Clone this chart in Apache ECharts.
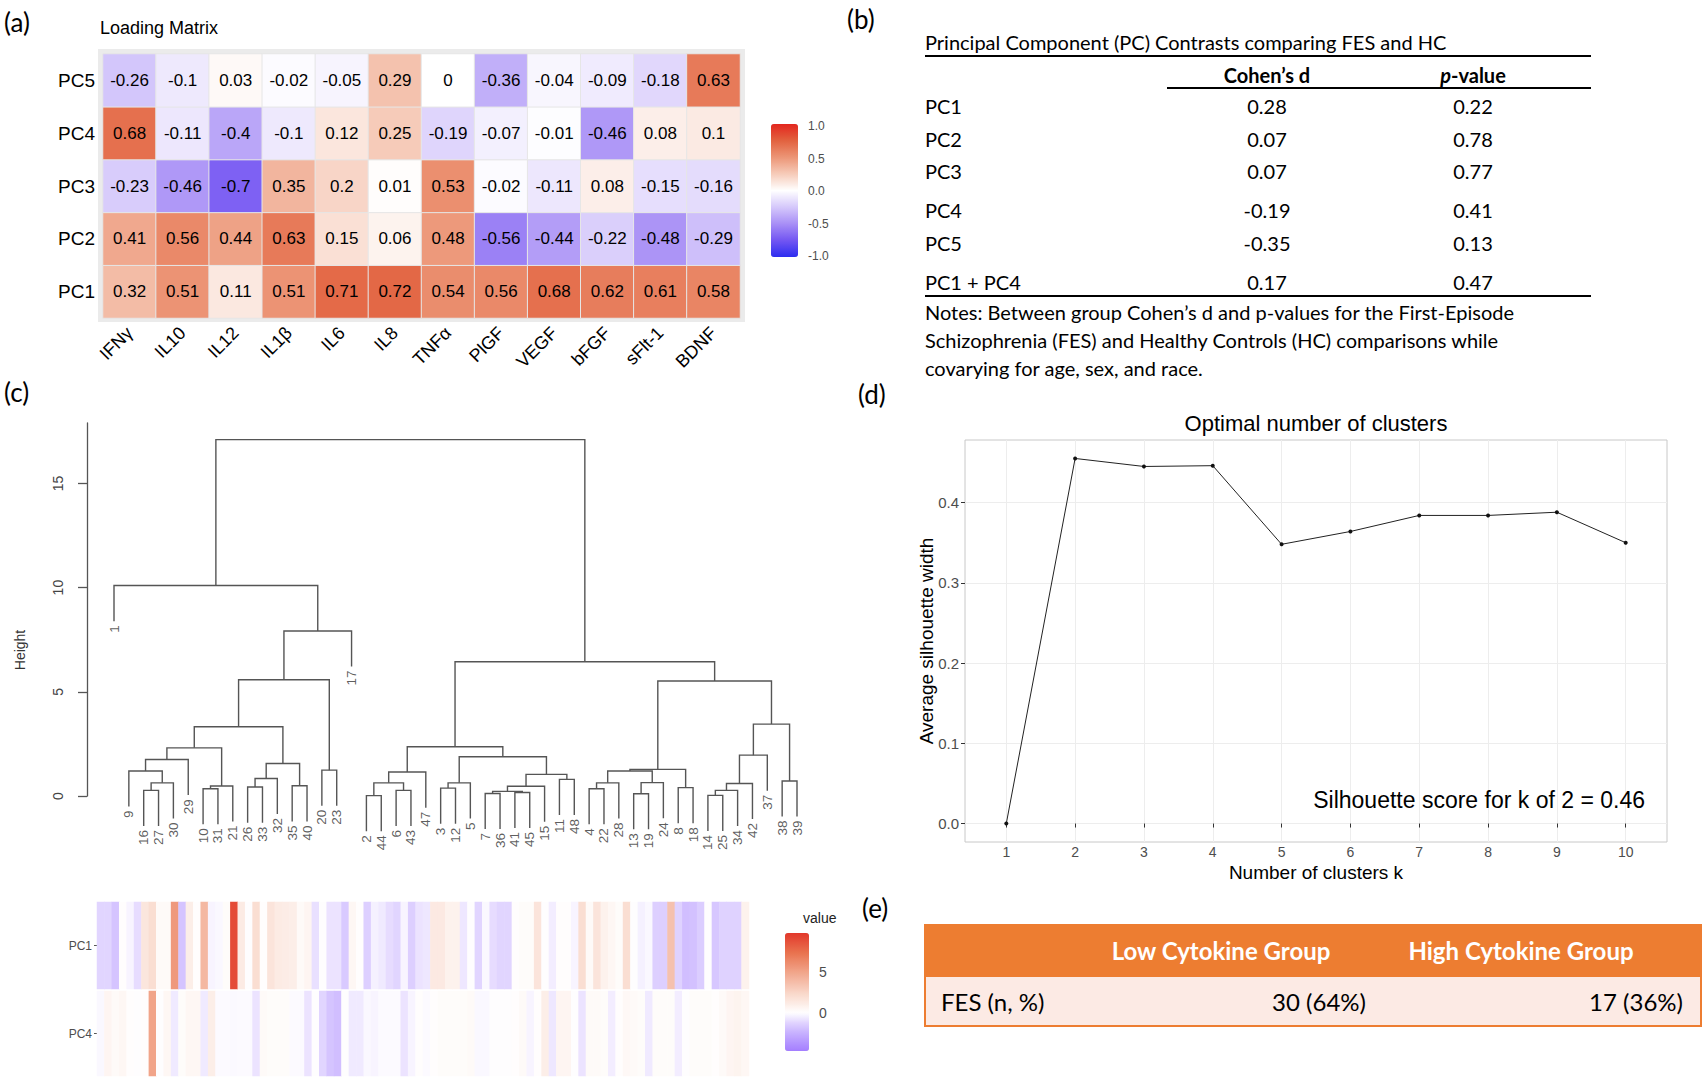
<!DOCTYPE html>
<html><head><meta charset="utf-8">
<script src="https://cdn.jsdelivr.net/npm/echarts@6/dist/echarts.min.js"></script>
<style>html,body{margin:0;padding:0;background:#fff}#c{width:1702px;height:1078px}</style>
</head><body><div id="c"></div>
<script>
// ---------- (a) Loading matrix ----------
const cytokines = ['IFNγ','IL10','IL12','IL1β','IL6','IL8','TNFα','PlGF','VEGF','bFGF','sFlt-1','BDNF'];
const pcNames = ['PC1','PC2','PC3','PC4','PC5'];
const loadPC1 = [0.32,0.51,0.11,0.51,0.71,0.72,0.54,0.56,0.68,0.62,0.61,0.58];
const loadPC2 = [0.41,0.56,0.44,0.63,0.15,0.06,0.48,-0.56,-0.44,-0.22,-0.48,-0.29];
const loadPC3 = [-0.23,-0.46,-0.7,0.35,0.2,0.01,0.53,-0.02,-0.11,0.08,-0.15,-0.16];
const loadPC4 = [0.68,-0.11,-0.4,-0.1,0.12,0.25,-0.19,-0.07,-0.01,-0.46,0.08,0.1];
const loadPC5 = [-0.26,-0.1,0.03,-0.02,-0.05,0.29,0,-0.36,-0.04,-0.09,-0.18,0.63];

// ---------- (b) Contrast table ----------
const contrastRows = ['PC1','PC2','PC3','PC4','PC5','PC1 + PC4'];
const cohensD = ['0.28','0.07','0.07','-0.19','-0.35','0.17'];
const pValues = ['0.22','0.78','0.77','0.41','0.13','0.47'];
const notesLines = [
  'Notes: Between group Cohen’s d and p-values for the First-Episode',
  'Schizophrenia (FES) and Healthy Controls (HC) comparisons while',
  'covarying for age, sex, and race.'
];

// ---------- (c) Dendrogram: [height, left, right], leaves are subject ids ----------
const dendroTree = [17.1,
  [10.1, 1, [7.92, [5.58, [3.32, [2.31, [1.75, [1.20, 9, [0.63, [0.27, 16, 27], 30]], 29], [0.48, [0.35, 10, 31], 21]],
                                  [1.56, [0.84, [0.43, 26, 33], 32], [0.49, 35, 40]]], [1.24, 20, 23]], 17]],
  [6.44, [2.36, [1.15, [0.63, [0.02, 2, 44], [0.27, 6, 43]], 47],
                [1.88, [0.63, [0.38, 3, 12], 5], [1.04, [0.47, [0.22, [0.12, 7, 36], [0.17, 41, 45]], 15], [0.80, 11, 48]]]],
         [5.52, [1.28, [1.20, [0.63, [0.35, 4, 22], 28], [0.64, [0.11, 13, 19], 24]], [0.40, 8, 18]],
                [3.45, [1.96, [0.60, [0.27, [0.03, 14, 25], 34], 42], 37], [0.72, 38, 39]]]]
];
const heightTicks = [0, 5, 10, 15];

// strip heatmap (PC1 / PC4 scores per subject)
const stripPC1 = [
 -1.2,-1.2,-1.8,0.1,-0.3,-1.0,1.5,2.0,0.3,0.3,
 5.5,-1.8,1.0,0.1,4.0,-0.3,-0.2,0.2,9.0,1.2,
 0.0,2.0,0.1,1.6,1.2,1.1,1.0,0.3,0.6,-0.9,
 0.0,-0.8,-0.8,-1.6,0.5,0.1,-1.4,-0.4,-0.6,-1.0,
 -1.2,-0.3,-1.4,-0.8,-0.7,1.3,1.3,0.8,0.8,-0.7,
 0.0,-1.2,-0.2,-1.0,-1.2,-1.2,0.1,0.2,0.2,1.6,
 0.0,-0.5,0.1,0.1,-0.3,2.0,0.3,1.6,0.8,0.5,
 0.2,2.0,0.0,-0.4,-0.2,-1.4,-1.4,3.5,-1.3,-2.0,
 -1.9,-1.5,0.0,-1.7,-1.3,-1.3,-1.3,0.8];
const stripPC4 = [
 -0.2,0.6,0.3,0.5,0.1,0.0,0.1,5.0,0.0,0.5,
 -0.6,0.2,0.5,0.5,-0.6,1.0,-0.1,-0.1,-0.15,-0.1,
 -0.1,-0.8,0.3,0.2,0.2,0.2,-0.1,-0.1,-0.8,0.0,
 -1.2,-1.8,-2.0,0.0,-0.6,-0.6,-0.2,-0.3,-0.1,-0.1,
 -0.1,-0.8,-0.3,0.1,-0.1,0.1,0.2,0.2,0.2,0.2,
 0.3,-0.2,-0.2,0.0,0.0,0.0,0.1,0.3,-0.3,0.1,
 1.0,-0.7,0.6,0.6,0.0,-0.8,0.3,0.3,0.2,-0.5,
 0.1,0.4,0.3,0.2,-0.6,0.2,0.2,0.2,-0.5,0.0,
 0.2,0.2,0.2,0.1,0.3,0.6,0.7,0.5];
const stripTicks = [0, 5];

// ---------- (d) Silhouette ----------
const kValues = [1,2,3,4,5,6,7,8,9,10];
const silWidth = [0, 0.455, 0.445, 0.446, 0.348, 0.364, 0.384, 0.384, 0.388, 0.350];
const silTicks = [0, 0.1, 0.2, 0.3, 0.4];

// ---------- (e) Cluster table ----------
const groupNames = ['Low Cytokine Group','High Cytokine Group'];
const fesRowLabel = 'FES (n, %)';
const fesCounts = ['30 (64%)','17 (36%)'];

// ===================== helpers =====================
const FR = '"Liberation Sans", Arial, sans-serif';
const FT = 'Lato, "Open Sans", sans-serif';
function hex2rgb(h){h=h.replace('#','');return [0,2,4].map(i=>parseInt(h.substr(i,2),16));}
function rgb2hex(c){return '#'+c.map(v=>Math.round(v).toString(16).padStart(2,'0')).join('');}
function lerpStops(stops, t){
  t=Math.max(0,Math.min(1,t)); const n=stops.length-1; const i=Math.min(n-1,Math.floor(t*n)); const f=t*n-i;
  const a=hex2rgb(stops[i]), b=hex2rgb(stops[i+1]); return rgb2hex(a.map((v,k)=>v+(b[k]-v)*f));
}
const stripRed = ['#FFFFFF','#F9D6C8','#F1A68C','#E9734F','#E2382B'];
const stripPurple = ['#FFFFFF','#E2D6FF','#CAB4FF','#B699FF','#A47EFF'];
const stripMin = -4.7, stripMax = 9.8;
function stripColor(v){ return v>=0 ? lerpStops(stripRed, v/stripMax) : lerpStops(stripPurple, v/stripMin); }
const stripColors = []; for (let i=0;i<=58;i++){ stripColors.push(stripColor(stripMin + i*(stripMax-stripMin)/58)); }
const loadColors = ['#2C2CF0','#7356F2','#A88FF6','#D5C8FB','#FFFFFF','#F6CBB9','#EC9576','#E2623F','#E3261E'];

const loadRows = [loadPC1, loadPC2, loadPC3, loadPC4, loadPC5];
const loadData = [];
loadRows.forEach((row, r) => row.forEach((v, c) => loadData.push([c, r, v])));

// dendrogram layout (R plot.hclust style)
function collectHeights(n, arr){ if (Array.isArray(n)) { arr.push(n[0]); collectHeights(n[1],arr); collectHeights(n[2],arr);} return arr; }
const allH = collectHeights(dendroTree, []);
const hang = 0.1 * (Math.max(...allH) - Math.min(...allH));
let leafCounter = 0; const leafPts = []; const dendroSegs = [];
function place(n){
  if (!Array.isArray(n)) { leafCounter++; return {x: leafCounter, y: null, id: n}; }
  const l = place(n[1]), r = place(n[2]), h = n[0];
  const ly = l.y === null ? h - hang : l.y, ry = r.y === null ? h - hang : r.y;
  if (l.y === null) leafPts.push([l.x, ly, String(l.id)]);
  if (r.y === null) leafPts.push([r.x, ry, String(r.id)]);
  dendroSegs.push({coords: [[l.x, ly], [l.x, h], [r.x, h], [r.x, ry]]});
  return {x: (l.x + r.x) / 2, y: h};
}
place(dendroTree);
const nLeaves = leafCounter;

const stripCats = stripPC1.map((_, i) => String(i + 1));
const strip1Data = stripPC1.map((v, i) => [i, 0, v]);
const strip4Data = stripPC4.map((v, i) => [i, 0, v]);
const silData = kValues.map((k, i) => [k, silWidth[i]]);

// ===================== graphics (labels, tables) =====================
function T(x, y, text, size, o){
  o = o || {};
  return {type:'text', x, y, rotation: o.rot || 0, z: 10, silent: true,
    style: {text, fontSize: size, fontFamily: o.ff || FT, fontWeight: o.fw || 'normal', fontStyle: o.fs || 'normal',
      fill: o.fill || '#000', align: o.align || 'left', verticalAlign: o.va || 'middle', rich: o.rich}};
}
function L(x1, y1, x2, y2, w, c){ return {type:'line', z: 10, silent: true, shape:{x1,y1,x2,y2}, style:{stroke: c || '#000', lineWidth: w}}; }
const g = [];
g.push(T(4, 22, '(a)', 26)); g.push(T(847, 19, '(b)', 26)); g.push(T(4, 392, '(c)', 26));
g.push(T(858, 394, '(d)', 26)); g.push(T(862, 908, '(e)', 26));
// (a)
g.push(T(100, 28, 'Loading Matrix', 18, {ff: FR}));
g.push({type:'rect', z: 0, silent: true, shape:{x: 98, y: 49, width: 647, height: 273}, style:{fill:'#EBEBEB'}});
// (b) table
const bL = 925, bR = 1591, cD = 1267, cP = 1473;
g.push(T(bL, 42, 'Principal Component (PC) Contrasts comparing FES and HC', 20));
g.push(L(bL, 56, bR, 56, 2));
g.push(T(cD, 75, 'Cohen’s d', 20, {align:'center', fw:'bold'}));
g.push(T(cP, 75, '{i|p}{b|-value}', 20, {align:'center', rich:{i:{fontStyle:'italic', fontWeight:'bold', fontSize:20, fontFamily:FT}, b:{fontWeight:'bold', fontSize:20, fontFamily:FT}}}));
g.push(L(1167, 88, bR, 88, 2));
const bRowY = [106, 139, 171, 210, 243, 282];
contrastRows.forEach((r, i) => {
  g.push(T(bL, bRowY[i], r, 20));
  g.push(T(cD, bRowY[i], cohensD[i], 20, {align:'center'}));
  g.push(T(cP, bRowY[i], pValues[i], 20, {align:'center'}));
});
g.push(L(bL, 296, bR, 296, 2));
notesLines.forEach((s, i) => g.push(T(bL, 312 + i * 28, s, 20)));
// (c)
g.push(T(20, 650, 'Height', 14, {ff: FR, align:'center', rot: Math.PI/2, fill:'#333'}));
g.push(T(803, 918, 'value', 14, {ff: FR, fill:'#222'}));
// (d)
g.push(T(1316, 423, 'Optimal number of clusters', 22, {ff: FR, align:'center'}));
g.push(T(1316, 872, 'Number of clusters k', 19, {ff: FR, align:'center'}));
g.push(T(926, 641, 'Average silhouette width', 19, {ff: FR, align:'center', rot: Math.PI/2}));
g.push(T(1645, 800, 'Silhouette score for k of 2 = 0.46', 23, {ff: FR, align:'right'}));
// (e) table
g.push({type:'rect', z: 5, silent: true, shape:{x: 924, y: 924, width: 778, height: 52}, style:{fill:'#ED7D31'}});
g.push({type:'rect', z: 5, silent: true, shape:{x: 925, y: 976, width: 776, height: 50}, style:{fill:'#FCEAE4', stroke:'#ED7D31', lineWidth: 2}});
const eColX = [1221, 1521], eValX = [1366, 1683];
groupNames.forEach((s, i) => g.push(T(eColX[i], 950, s, 24, {align:'center', fw:'bold', fill:'#fff'})));
g.push(T(941, 1001, fesRowLabel, 24));
fesCounts.forEach((s, i) => g.push(T(eValX[i], 1001, s, 24, {align:'right'})));

// ===================== option =====================
const axisTxt = {fontFamily: FR, color: '#4D4D4D'};
const option = {
  animation: false,
  textStyle: {fontFamily: FR},
  grid: [
    {left: 103, top: 54, width: 637, height: 264, outerBoundsMode: 'none'},
    {left: 771, top: 126, width: 27, height: 130, outerBoundsMode: 'none'},
    {left: 114, top: 423, width: 683, height: 373, outerBoundsMode: 'none'},
    {left: 97, top: 902, width: 652, height: 87, outerBoundsMode: 'none'},
    {left: 97, top: 991, width: 652, height: 85, outerBoundsMode: 'none'},
    {left: 785, top: 933, width: 24, height: 118, outerBoundsMode: 'none'},
    {left: 965, top: 440, width: 702, height: 402, outerBoundsMode: 'none', show: true, borderColor: '#C8C8C8', borderWidth: 1}
  ],
  xAxis: [
    {gridIndex: 0, type: 'category', data: cytokines, axisLine: {show: false},
     axisTick: {alignWithLabel: true, length: 7, lineStyle: {color: '#333'}},
     axisLabel: {rotate: 45, fontSize: 18, color: '#000', margin: 12, fontFamily: FR}},
    {gridIndex: 1, type: 'value', show: false, min: 0, max: 1},
    {gridIndex: 2, type: 'value', show: false, min: 1, max: nLeaves},
    {gridIndex: 3, type: 'category', data: stripCats, show: false},
    {gridIndex: 4, type: 'category', data: stripCats, show: false},
    {gridIndex: 5, type: 'value', show: false, min: 0, max: 1},
    {gridIndex: 6, type: 'value', min: 0.4, max: 10.6, axisLine: {show: false},
     axisTick: {show: true, length: 4, lineStyle: {color: '#333'}, customValues: kValues},
     axisLabel: Object.assign({fontSize: 14, margin: 3, customValues: kValues}, axisTxt),
     splitLine: {show: true, lineStyle: {color: '#EDEDED'}}}
  ],
  yAxis: [
    {gridIndex: 0, type: 'category', data: pcNames, axisLine: {show: false},
     axisTick: {alignWithLabel: true, length: 4, lineStyle: {color: '#333'}},
     axisLabel: {fontSize: 19, color: '#000', margin: 8, fontFamily: FR}},
    {gridIndex: 1, type: 'value', position: 'right', min: -1, max: 1, interval: 0.5,
     axisLine: {show: false}, axisTick: {show: false}, splitLine: {show: false},
     axisLabel: Object.assign({fontSize: 12, margin: 10, formatter: v => v.toFixed(1)}, axisTxt)},
    {gridIndex: 2, type: 'value', min: 0, max: 17.9, offset: 27,
     axisLine: {show: true, lineStyle: {color: '#555', width: 1.3}},
     axisTick: {show: true, length: 9, lineStyle: {color: '#555', width: 1.3}, customValues: heightTicks},
     axisLabel: {rotate: 90, fontSize: 14, color: '#444', margin: 22, customValues: heightTicks},
     splitLine: {show: false}},
    {gridIndex: 3, type: 'category', data: ['PC1'], axisLine: {show: false},
     axisTick: {show: true, alignWithLabel: true, length: 3, lineStyle: {color: '#555'}},
     axisLabel: Object.assign({fontSize: 12, margin: 5}, axisTxt)},
    {gridIndex: 4, type: 'category', data: ['PC4'], axisLine: {show: false},
     axisTick: {show: true, alignWithLabel: true, length: 3, lineStyle: {color: '#555'}},
     axisLabel: Object.assign({fontSize: 12, margin: 5}, axisTxt)},
    {gridIndex: 5, type: 'value', position: 'right', min: stripMin, max: stripMax,
     axisLine: {show: false}, axisTick: {show: false}, splitLine: {show: false},
     axisLabel: Object.assign({fontSize: 14, margin: 10, customValues: stripTicks}, axisTxt)},
    {gridIndex: 6, type: 'value', min: -0.023, max: 0.478, axisLine: {show: false},
     axisTick: {show: true, length: 4, lineStyle: {color: '#333'}, customValues: silTicks},
     axisLabel: Object.assign({fontSize: 15, margin: 6, customValues: silTicks, formatter: v => v.toFixed(1)}, axisTxt),
     splitLine: {show: true, lineStyle: {color: '#EDEDED'}}}
  ],
  visualMap: [
    {type: 'continuous', seriesIndex: 0, min: -1, max: 1, left: 771, top: 124, itemWidth: 27, itemHeight: 133,
     padding: 0, calculable: false, hoverLink: false, inRange: {color: loadColors}, text: null},
    {type: 'continuous', seriesIndex: [3, 4], min: stripMin, max: stripMax, left: 785, top: 933, itemWidth: 24, itemHeight: 118,
     padding: 0, calculable: false, hoverLink: false, inRange: {color: stripColors}, text: null}
  ],
  series: [
    {type: 'heatmap', xAxisIndex: 0, yAxisIndex: 0, data: loadData,
     itemStyle: {borderColor: '#E6E6E6', borderWidth: 1},
     label: {show: true, fontSize: 17, color: '#000', fontFamily: FR, formatter: p => String(p.value[2])},
     emphasis: {disabled: true}},
    {type: 'lines', coordinateSystem: 'cartesian2d', xAxisIndex: 2, yAxisIndex: 2, polyline: true, clip: false,
     data: dendroSegs, lineStyle: {color: '#555', width: 1.4, opacity: 1}, silent: true},
    {type: 'scatter', xAxisIndex: 2, yAxisIndex: 2, data: leafPts, symbolSize: 0, clip: false, silent: true,
     label: {show: true, position: 'bottom', distance: 4, rotate: 90, align: 'right', verticalAlign: 'middle',
       fontSize: 13.5, color: '#333', fontFamily: FR, formatter: p => p.value[2]}},
    {type: 'heatmap', xAxisIndex: 3, yAxisIndex: 3, data: strip1Data, emphasis: {disabled: true}, silent: true},
    {type: 'heatmap', xAxisIndex: 4, yAxisIndex: 4, data: strip4Data, emphasis: {disabled: true}, silent: true},
    {type: 'line', xAxisIndex: 6, yAxisIndex: 6, data: silData, symbol: 'circle', symbolSize: 4,
     lineStyle: {color: '#222', width: 1}, itemStyle: {color: '#111'}, silent: true}
  ],
  graphic: g
};
const chart = echarts.init(document.getElementById('c'), null, {renderer: 'svg', width: 1702, height: 1078});
chart.setOption(option);
</script></body></html>
